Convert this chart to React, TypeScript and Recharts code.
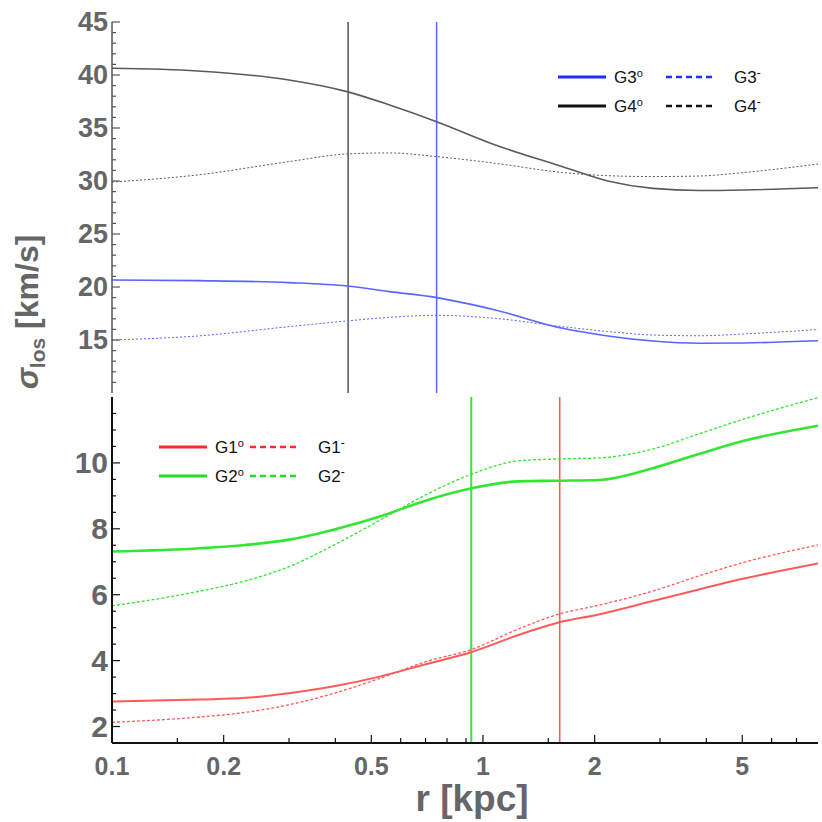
import React from 'react';
import { LineChart, Line, XAxis, YAxis, ReferenceLine, Legend } from 'recharts';

// radii [kpc] for upper panel
const rTop = [0.1, 0.17, 0.3, 0.43, 0.56, 0.75, 1.08, 1.64, 2.17, 2.87, 3.82, 5.05, 8];
const g4Iso = [40.63, 40.38, 39.53, 38.43, 37.17, 35.6, 33.4, 31.35, 30.0, 29.3, 29.1, 29.15, 29.37];
const g4Minus = [29.9, 30.57, 31.83, 32.55, 32.65, 32.3, 31.67, 30.8, 30.5, 30.42, 30.47, 30.8, 31.6];
const g3Iso = [20.66, 20.6, 20.41, 20.09, 19.56, 19.0, 17.83, 16.1, 15.38, 14.9, 14.69, 14.72, 14.93];
const g3Minus = [15.0, 15.38, 16.26, 16.8, 17.14, 17.33, 17.04, 16.26, 15.8, 15.47, 15.4, 15.57, 16.0];

// radii [kpc] for lower panel
const rBottom = [0.1, 0.173, 0.229, 0.303, 0.4, 0.533, 0.706, 0.933, 1.24, 1.59, 2.05, 2.87, 3.82, 5.05, 8];
const g2Iso = [7.31, 7.41, 7.51, 7.68, 7.99, 8.39, 8.87, 9.23, 9.44, 9.46, 9.48, 9.84, 10.27, 10.67, 11.13];
const g2Minus = [5.66, 6.11, 6.42, 6.87, 7.53, 8.29, 9.05, 9.66, 10.06, 10.12, 10.15, 10.42, 10.88, 11.33, 11.98];
const g1Iso = [2.76, 2.82, 2.87, 3.02, 3.23, 3.53, 3.9, 4.26, 4.77, 5.15, 5.4, 5.81, 6.16, 6.49, 6.95];
const g1Minus = [2.13, 2.29, 2.43, 2.67, 3.02, 3.48, 3.98, 4.34, 4.95, 5.4, 5.68, 6.11, 6.57, 6.98, 7.51];

// vertical markers [kpc]
const g4Mark = 0.433;
const g3Mark = 0.75;
const g2Mark = 0.93;
const g1Mark = 1.61;

const xMajorTicks = [0.1, 0.2, 0.5, 1, 2, 5];
const xMinorTicks = [0.15, 0.3, 0.4, 0.6, 0.7, 0.8, 0.9, 1.5, 3, 4, 6, 7];
const topMajorTicks = [15, 20, 25, 30, 35, 40, 45];
const topMinorTicks = [11, 12, 13, 14, 16, 17, 18, 19, 21, 22, 23, 24, 26, 27, 28, 29, 31, 32, 33, 34, 36, 37, 38, 39, 41, 42, 43, 44];
const bottomMajorTicks = [2, 4, 6, 8, 10];
const bottomMinorTicks = [2.5, 3, 3.5, 4.5, 5, 5.5, 6.5, 7, 7.5, 8.5, 9, 9.5, 10.5, 11, 11.5];

const topData = rTop.map((r, i) => ({ r, g4o: g4Iso[i], g4m: g4Minus[i], g3o: g3Iso[i], g3m: g3Minus[i] }));
const bottomData = rBottom.map((r, i) => ({ r, g2o: g2Iso[i], g2m: g2Minus[i], g1o: g1Iso[i], g1m: g1Minus[i] }));

const FONT = '"Liberation Sans", Arial, sans-serif';
const LABEL = '#666666';

function XTick(props: any) {
  const { x, y, payload, dir, labels, stroke } = props;
  const major = xMajorTicks.includes(payload.value);
  const len = major ? 8 : 5;
  return (
    <g>
      <line x1={x} x2={x} y1={y} y2={y + dir * len} stroke={stroke} strokeWidth={1.2} />
      {labels && major && (
        <text x={x} y={y + 32} textAnchor="middle" fontFamily={FONT} fontWeight="bold" fontSize={25} fill={LABEL}>
          {String(payload.value)}
        </text>
      )}
    </g>
  );
}

function YTick(props: any) {
  const { x, y, payload, dir, majors, labels, stroke, size } = props;
  const major = majors.includes(payload.value);
  const len = major ? 8 : 4;
  return (
    <g>
      <line x1={x} x2={x + dir * len} y1={y} y2={y} stroke={stroke} strokeWidth={1.2} />
      {labels && major && (
        <text x={x - 4} y={y} dy="0.35em" textAnchor="end" fontFamily={FONT} fontWeight="bold" fontSize={size} fill={LABEL}>
          {payload.value}
        </text>
      )}
    </g>
  );
}

function PairLegend({ rows, text2 }: { rows: { name: string; color: string }[]; text2: number }) {
  return (
    <svg width={240} height={64} style={{ overflow: 'visible' }}>
      {rows.map((row, i) => {
        const y = 15 + i * 29;
        return (
          <g key={row.name} fontFamily={FONT} fontSize={17} fill="#111">
            <line x1={0} x2={48} y1={y} y2={y} stroke={row.color} strokeWidth={3} />
            <text x={56} y={y} dy="0.35em">
              {row.name}
              <tspan fontSize={11} dy={-6}>o</tspan>
            </text>
            <line x1={text2 - 68} x2={text2 - 18} y1={y} y2={y} stroke={row.color} strokeWidth={2.5} strokeDasharray="6 4" />
            <text x={text2} y={y} dy="0.35em">
              {row.name}
              <tspan fontSize={12} dy={-6}>-</tspan>
            </text>
          </g>
        );
      })}
    </svg>
  );
}

const allX = [...xMajorTicks, ...xMinorTicks];

export default function App() {
  const topFrame = '#555555';
  const botFrame = '#111111';
  return (
    <div style={{ position: 'absolute', left: 0, top: 0, width: 822, height: 822, background: '#fff' }}>
      <div style={{ position: 'absolute', left: 0, top: 0 }}>
        <LineChart width={822} height={395} data={topData} margin={{ top: 22, right: 4, bottom: 2, left: 0 }}>
          <XAxis dataKey="r" type="number" scale="log" domain={[0.1, 8]} allowDataOverflow ticks={allX} interval={0}
            height={0} tickSize={0} tickMargin={0} tickLine={false} axisLine={{ stroke: topFrame, strokeWidth: 1.5 }}
            tick={<XTick dir={-1} labels={false} stroke={topFrame} />} />
          <XAxis xAxisId="top" orientation="top" dataKey="r" type="number" scale="log" domain={[0.1, 8]} allowDataOverflow
            ticks={allX} interval={0} height={0} tickSize={0} tickMargin={0} tickLine={false}
            axisLine={{ stroke: topFrame, strokeWidth: 1.5 }} tick={<XTick dir={1} labels={false} stroke={topFrame} />} />
          <YAxis type="number" domain={[10, 45]} allowDataOverflow width={112} ticks={[...topMajorTicks, ...topMinorTicks]}
            interval={0} tickSize={0} tickMargin={0} tickLine={false} axisLine={{ stroke: topFrame, strokeWidth: 1.5 }}
            tick={<YTick dir={1} majors={topMajorTicks} labels size={27} stroke={topFrame} />} />
          <YAxis yAxisId="right" orientation="right" type="number" domain={[10, 45]} allowDataOverflow width={0}
            ticks={[...topMajorTicks, ...topMinorTicks]} interval={0} tickSize={0} tickMargin={0} tickLine={false}
            axisLine={{ stroke: topFrame, strokeWidth: 1.5 }}
            tick={<YTick dir={-1} majors={topMajorTicks} labels={false} stroke={topFrame} />} />
          <ReferenceLine x={g4Mark} stroke="#555555" strokeWidth={1.5} />
          <ReferenceLine x={g3Mark} stroke="#5a64ff" strokeWidth={1.5} />
          <Line dataKey="g4o" type="monotone" stroke="#5a5a5a" strokeWidth={1.6} dot={false} isAnimationActive={false} />
          <Line dataKey="g4m" type="monotone" stroke="#5a5a5a" strokeWidth={1} strokeDasharray="2 2" dot={false} isAnimationActive={false} />
          <Line dataKey="g3o" type="monotone" stroke="#5a64ff" strokeWidth={1.6} dot={false} isAnimationActive={false} />
          <Line dataKey="g3m" type="monotone" stroke="#5a64ff" strokeWidth={1} strokeDasharray="2 2" dot={false} isAnimationActive={false} />
          <Legend layout="vertical" align="center" verticalAlign="middle"
            wrapperStyle={{ left: 558, top: 62, width: 240, height: 64 }}
            content={() => (
              <PairLegend text2={176} rows={[
                { name: 'G3', color: '#1f2dff' },
                { name: 'G4', color: '#111111' },
              ]} />
            )} />
        </LineChart>
      </div>
      <div style={{ position: 'absolute', left: 0, top: 395 }}>
        <LineChart width={822} height={427} data={bottomData} margin={{ top: 2, right: 4, bottom: 0, left: 0 }}>
          <XAxis dataKey="r" type="number" scale="log" domain={[0.1, 8]} allowDataOverflow ticks={allX} interval={0}
            height={79} tickSize={0} tickMargin={0} tickLine={false} axisLine={{ stroke: botFrame, strokeWidth: 2 }}
            tick={<XTick dir={-1} labels stroke={botFrame} />} />
          <XAxis xAxisId="top" orientation="top" dataKey="r" type="number" scale="log" domain={[0.1, 8]} allowDataOverflow
            ticks={allX} interval={0} height={0} tickSize={0} tickMargin={0} tickLine={false}
            axisLine={{ stroke: botFrame, strokeWidth: 2 }} tick={<XTick dir={1} labels={false} stroke={botFrame} />} />
          <YAxis type="number" domain={[1.5, 12]} allowDataOverflow width={112} ticks={[...bottomMajorTicks, ...bottomMinorTicks]}
            interval={0} tickSize={0} tickMargin={0} tickLine={false} axisLine={{ stroke: botFrame, strokeWidth: 2 }}
            tick={<YTick dir={1} majors={bottomMajorTicks} labels size={30} stroke={botFrame} />} />
          <YAxis yAxisId="right" orientation="right" type="number" domain={[1.5, 12]} allowDataOverflow width={0}
            ticks={[...bottomMajorTicks, ...bottomMinorTicks]} interval={0} tickSize={0} tickMargin={0} tickLine={false}
            axisLine={{ stroke: botFrame, strokeWidth: 2 }}
            tick={<YTick dir={-1} majors={bottomMajorTicks} labels={false} stroke={botFrame} />} />
          <ReferenceLine x={g2Mark} stroke="#33e633" strokeWidth={2} />
          <ReferenceLine x={g1Mark} stroke="#ff5a5a" strokeWidth={1.6} />
          <Line dataKey="g2o" type="monotone" stroke="#33e633" strokeWidth={2.6} dot={false} isAnimationActive={false} />
          <Line dataKey="g2m" type="monotone" stroke="#33e633" strokeWidth={1.3} strokeDasharray="3 2" dot={false} isAnimationActive={false} />
          <Line dataKey="g1o" type="monotone" stroke="#ff5a5a" strokeWidth={2} dot={false} isAnimationActive={false} />
          <Line dataKey="g1m" type="monotone" stroke="#ff5a5a" strokeWidth={1.3} strokeDasharray="3 2" dot={false} isAnimationActive={false} />
          <Legend layout="vertical" align="center" verticalAlign="middle"
            wrapperStyle={{ left: 159, top: 37, width: 240, height: 64 }}
            content={() => (
              <PairLegend text2={159} rows={[
                { name: 'G1', color: '#ff2a2a' },
                { name: 'G2', color: '#22dd22' },
              ]} />
            )} />
        </LineChart>
      </div>
      <svg width={822} height={822} style={{ position: 'absolute', left: 0, top: 0, pointerEvents: 'none' }}>
        <text x={38} y={312} transform="rotate(-90 38 312)" textAnchor="middle" fontFamily={FONT} fontWeight="bold"
          fontSize={32} fill={LABEL}>
          <tspan fontStyle="italic">σ</tspan>
          <tspan fontSize={21} dy={7}>los</tspan>
          <tspan dy={-7}> [km/s]</tspan>
        </text>
        <text x={472} y={811} textAnchor="middle" fontFamily={FONT} fontWeight="bold" fontSize={37} fill={LABEL}>
          r [kpc]
        </text>
      </svg>
    </div>
  );
}
